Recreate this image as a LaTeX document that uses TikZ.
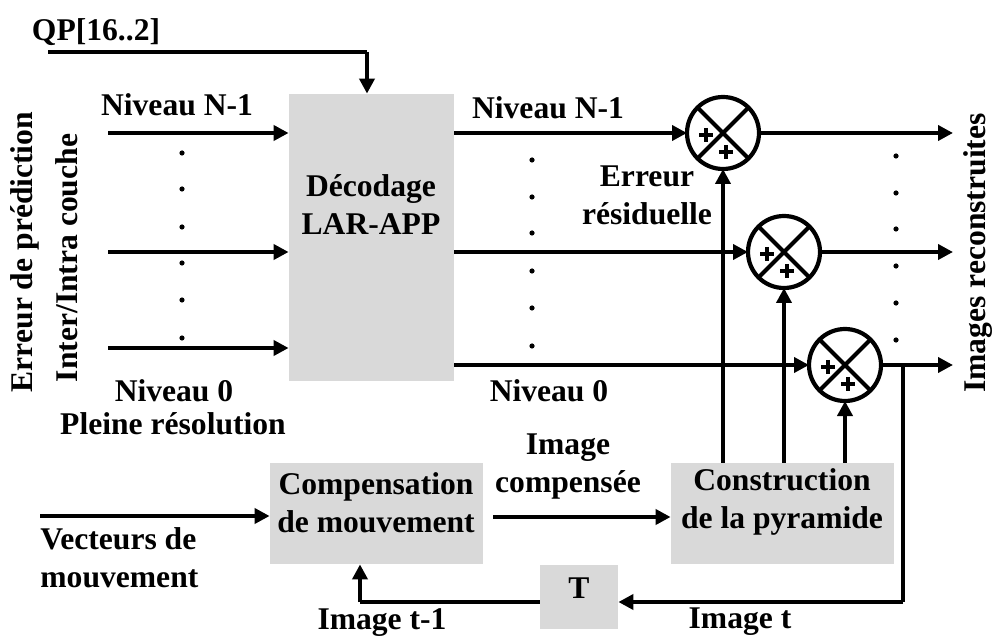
\documentclass[tikz,border=0pt]{standalone}
\usepackage{fontspec}
\setmainfont{Liberation Serif}
\usetikzlibrary{arrows.meta}
\definecolor{boxgray}{RGB}{217,217,217}
\tikzset{
  lbl/.style={font=\fontsize{15.8}{19}\selectfont\bfseries, align=center, inner sep=0pt},
  blk/.style={fill=boxgray, draw=none, inner sep=0pt},
  arr/.style={line width=2pt, -{Triangle[length=7.5pt,width=7.5pt]}},
  wire/.style={line width=2pt},
  sumnode/.style={circle, draw, line width=2.1pt, minimum size=36pt, inner sep=0pt, outer sep=0pt},
  plusline/.style={line width=2pt},
  dotmark/.style={fill=black}
}
\newcommand{\plusat}[1]{%
  \draw[plusline] (#1) ++(-7,0) -- ++(14,0) ++(-7,-7) -- ++(0,14);}
\begin{document}
\begin{tikzpicture}[x=0.5pt,y=-0.5pt]
\useasboundingbox (0,0) rectangle (995,641);

% processing blocks
\node[blk, minimum width=82.5pt, minimum height=143.5pt] (dec) at (371.5,237.5) {};
\node[blk, minimum width=106.5pt, minimum height=50.5pt] (comp) at (376.5,513.5) {};
\node[blk, minimum width=111.5pt, minimum height=50.5pt] (con) at (782.5,513.5) {};
\node[blk, minimum width=39pt, minimum height=32pt] (T) at (579,597) {};

\node[lbl] (tdec) at (371,205) {Décodage\\LAR-APP};
\node[lbl] (tcomp) at (376,503) {Compensation\\de mouvement};
\node[lbl] (tcon) at (782,502) {Construction\\de la pyramide};
\node[lbl] (tT) at (579,588) {T};

% summing junctions
\node[sumnode] (s1) at (723,133) {};
\node[sumnode] (s2) at (784,252) {};
\node[sumnode] (s3) at (845,365) {};
\foreach \s in {s1,s2,s3}{
  \draw[wire] (\s.north west) -- (\s.south east);
  \draw[wire] (\s.north east) -- (\s.south west);
  \plusat{[shift={(-17,2)}]\s.center}
  \plusat{[shift={(3,19)}]\s.center}
}

% helper points
\coordinate (qp) at (48,52);
\coordinate (qpc) at (367,52);
\coordinate (i1) at (108,133);
\coordinate (i2) at (108,252);
\coordinate (i3) at (108,348);
\coordinate (out) at (953,0);
\coordinate (fb) at (903,365);
\coordinate (tin) at (903,602);
\coordinate (up) at (360,602);
\coordinate (cc) at (493,517);
\coordinate (vv) at (40,516);

% quantisation parameter
\draw[wire] (qp) -- (qpc);
\draw[arr] (qpc) -- (qpc |- dec.north);

% inputs of the decoder
\draw[arr] (i1) -- (i1 -| dec.west);
\draw[arr] (i2) -- (i2 -| dec.west);
\draw[arr] (i3) -- (i3 -| dec.west);

% decoder outputs to the adders
\draw[arr] (dec.east |- s1) -- (s1.west);
\draw[arr] (dec.east |- s2) -- (s2.west);
\draw[arr] (dec.east |- s3) -- (s3.west);

% reconstructed outputs
\draw[arr] (s1.east) -- (s1.east -| out);
\draw[arr] (s2.east) -- (s2.east -| out);
\draw[arr] (s3.east) -- (s3.east -| out);

% pyramid to adders
\draw[arr] (con.north -| s1) -- (s1.south);
\draw[arr] (con.north -| s2) -- (s2.south);
\draw[arr] (con.north -| s3) -- (s3.south);

% feedback loop
\draw[wire] (fb) -- (tin);
\draw[arr] (tin) -- (tin -| T.east);
\draw[wire] (tin -| T.west) -- (up);
\draw[arr] (up) -- (up |- comp.south);

% motion compensation path
\draw[arr] (cc) -- (cc -| con.west);
\draw[arr] (vv) -- (vv -| comp.west);

% level dots
\foreach \y in {153,189,227,263,300,338} \fill[dotmark] (182,\y) circle[radius=1.3pt];
\foreach \y in {160,197,233,271,308,346} \fill[dotmark] (532,\y) circle[radius=1.3pt];
\foreach \y in {156,193,229,266,303,340} \fill[dotmark] (896,\y) circle[radius=1.3pt];

% labels
\node[lbl] (lqp) at (96,32) {QP[16..2]};
\node[lbl] (lin1) at (177,105) {Niveau N-1};
\node[lbl] (lin0) at (174,391) {Niveau 0};
\node[lbl] (lpr) at (173,424) {Pleine résolution};
\node[lbl, rotate=90] (lerr) at (25,252) {Erreur de prédiction};
\node[lbl, rotate=90] (linter) at (67,258) {Inter/Intra couche};
\node[lbl] (lout1) at (548,108) {Niveau N-1};
\node[lbl] (lout0) at (549,391) {Niveau 0};
\node[lbl] (lres) at (647,195) {Erreur\\résiduelle};
\node[lbl, rotate=90] (lrec) at (978,253) {Images reconstruites};
\node[lbl] (lcmp) at (568,467) {Image\\compensée};
\node[lbl, align=left, anchor=west] (lvec) at (40,558) {Vecteurs de\\mouvement};
\node[lbl] (lt1) at (382,623) {Image t-1};
\node[lbl] (lt) at (740,622) {Image t};
\end{tikzpicture}
\end{document}
